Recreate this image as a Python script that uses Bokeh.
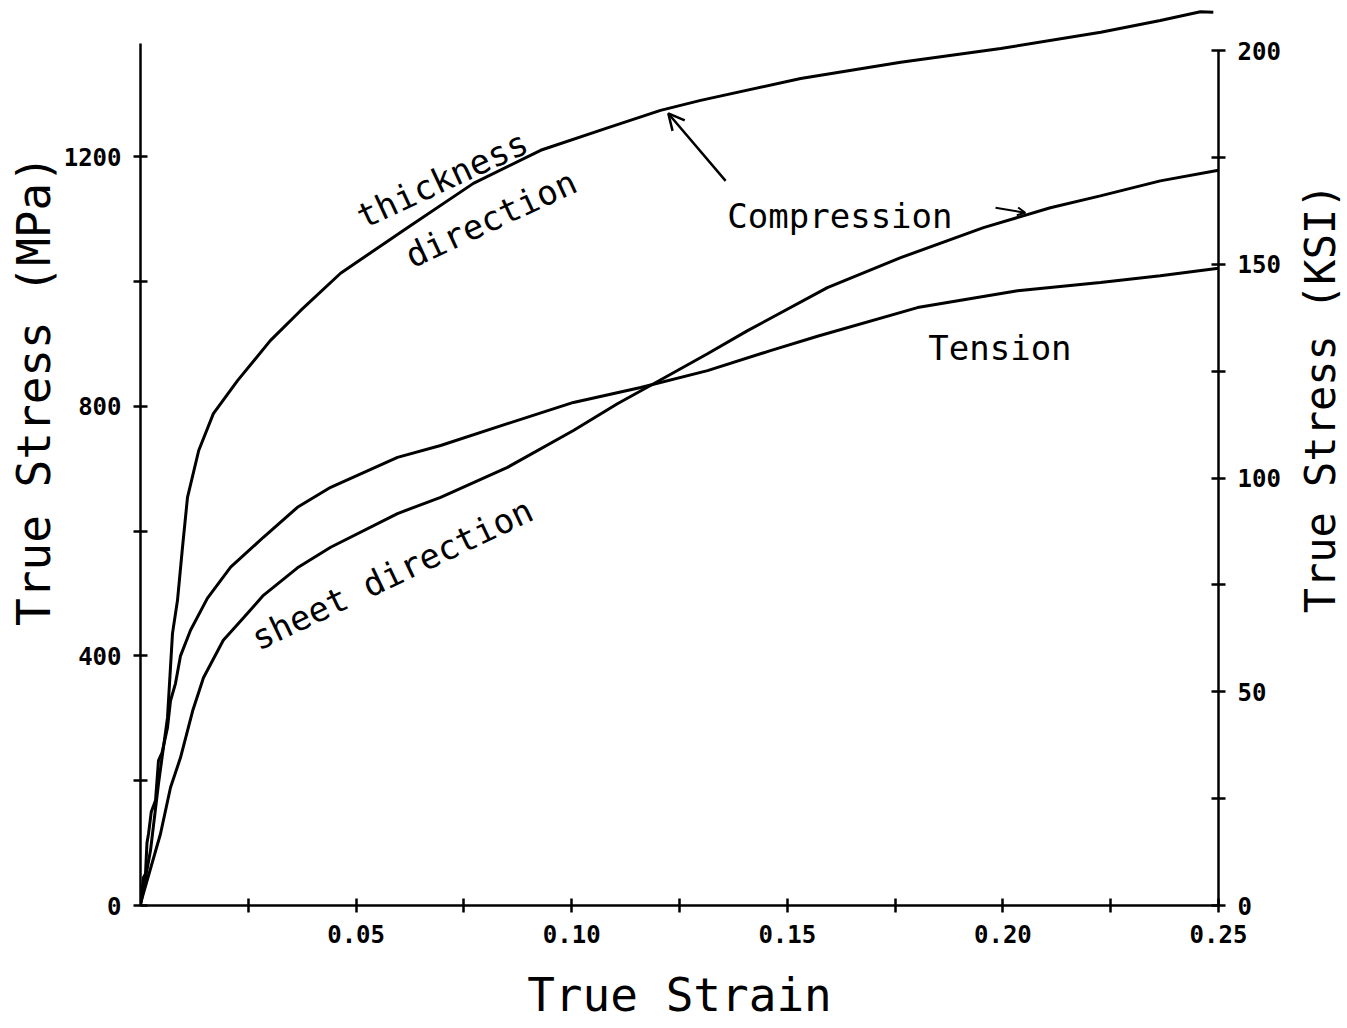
import math
from bokeh.plotting import figure
from bokeh.models import (Range1d, LinearAxis, FixedTicker, NumeralTickFormatter,
                          ColumnDataSource, Arrow, OpenHead)
from bokeh.layouts import row
from bokeh.core.properties import value
from bokeh.embed import file_html
from bokeh.resources import INLINE

# ---- data ----
thick_x = [0, 0.00232, 0.00417, 0.00626, 0.00742, 0.00858, 0.00974, 0.0109, 0.0135, 0.0169,
           0.0225, 0.0301, 0.0371, 0.0464, 0.0619, 0.0772, 0.0928, 0.1083, 0.1206, 0.1299,
           0.1531, 0.1763, 0.1995, 0.2227, 0.2365, 0.2458, 0.2488]
thick_y = [0, 88, 195, 301, 436, 489, 574, 654, 729, 788,
           841, 905, 953, 1013, 1086, 1157, 1210, 1246, 1274, 1290,
           1325, 1351, 1373, 1399, 1418, 1432, 1431]

sheet_x = [0, 0.00464, 0.00696, 0.00928, 0.0121, 0.0146, 0.0192, 0.0239, 0.0285, 0.0364,
           0.0441, 0.0596, 0.0696, 0.0851, 0.1004, 0.1106, 0.1190, 0.1315, 0.1408, 0.1593,
           0.1763, 0.1955, 0.2110, 0.2226, 0.2365, 0.2500]
sheet_y = [3, 115, 189, 237, 312, 365, 425, 461, 497, 541,
           574, 628, 654, 702, 761, 804, 836, 884, 921, 990,
           1038, 1086, 1118, 1137, 1161, 1178]

tension_x = [0, 0.0007, 0.00116, 0.0015, 0.00186, 0.0025, 0.00348, 0.00417, 0.0050, 0.00626,
             0.00696, 0.00812, 0.00928, 0.0116, 0.0155, 0.0209, 0.0285, 0.0364, 0.0441, 0.0596,
             0.0696, 0.0851, 0.1004, 0.1160, 0.1315, 0.1461, 0.1570, 0.1802, 0.2034, 0.2226,
             0.2365, 0.2500]
tension_y = [3, 45, 51, 100, 115, 150, 168, 232, 245, 285,
             328, 356, 400, 441, 492, 542, 590, 638, 670, 718,
             737, 772, 806, 830, 857, 889, 912, 958, 985, 998,
             1009, 1021]

x_ticks = [0.05, 0.10, 0.15, 0.20, 0.25]
x_minor = [0.025, 0.075, 0.125, 0.175, 0.225]
mpa_ticks = [0, 400, 800, 1200]
mpa_minor = [200, 600, 1000]
ksi_ticks = [0, 50, 100, 150, 200]
ksi_minor = [25, 75, 125, 175]

x_title = "True Strain"
left_title = "True Stress (MPa)"
right_title = "True Stress (KSI)"

labels = ["thickness", "direction", "Compression", "Tension", "sheet direction"]
label_x = [0.0506, 0.0619, 0.1361, 0.1827, 0.0262]
label_y = [1101, 1038, 1105, 894, 425]
label_angle = [0.436, 0.436, 0.0, 0.0, 0.445]

FONT = "DejaVu Sans Mono"
H = 1028

p = figure(width=1224, height=H, output_backend="svg", toolbar_location=None,
           x_range=Range1d(0, 0.25), y_range=Range1d(0, 1450),
           min_border_left=80, min_border_right=66, min_border_top=0,
           min_border_bottom=123)
p.outline_line_color = None
p.grid.visible = False
p.background_fill_color = "white"
p.border_fill_color = "white"
p.extra_y_ranges = {"ksi": Range1d(0, 211.7)}

def style_axis(ax, ticks, minor, bounds):
    ax.ticker = FixedTicker(ticks=ticks, minor_ticks=minor)
    ax.bounds = bounds
    ax.axis_line_width = 2.5
    ax.axis_line_color = "black"
    ax.major_tick_line_width = 2.5
    ax.minor_tick_line_width = 2.5
    ax.major_tick_line_color = "black"
    ax.minor_tick_line_color = "black"
    ax.major_tick_in = 7
    ax.major_tick_out = 7
    ax.minor_tick_in = 7
    ax.minor_tick_out = 7
    ax.major_label_text_font = FONT
    ax.major_label_text_font_style = "bold"
    ax.major_label_text_font_size = "24px"
    ax.major_label_text_color = "black"
    ax.axis_label_text_font = FONT
    ax.axis_label_text_font_style = "normal"
    ax.axis_label_text_font_size = "46px"
    ax.axis_label_text_color = "black"

xa = p.xaxis[0]
style_axis(xa, x_ticks, x_minor, (0, 0.25))
xa.formatter = NumeralTickFormatter(format="0.00")
xa.axis_label = x_title
xa.major_label_standoff = 12
xa.axis_label_standoff = 22

ya = p.yaxis[0]
style_axis(ya, mpa_ticks, mpa_minor, (0, 1381))
ya.major_label_standoff = 12

ra = LinearAxis(y_range_name="ksi")
style_axis(ra, ksi_ticks, ksi_minor, (0, 200))
ra.major_label_standoff = 12
p.add_layout(ra, "right")

for xs, ys in [(thick_x, thick_y), (sheet_x, sheet_y), (tension_x, tension_y)]:
    p.line(xs, ys, line_color="black", line_width=3)

src = ColumnDataSource(dict(x=label_x, y=label_y, text=labels, angle=label_angle))
p.text(x="x", y="y", text="text", angle="angle", source=src,
       text_font=value(FONT), text_font_size=value("34px"), text_color="black",
       text_align="left", text_baseline="alphabetic")

# arrows (annotation positions)
p.add_layout(Arrow(end=OpenHead(size=16, line_width=2.5, line_color="black"),
                   x_start=0.1357, y_start=1161, x_end=0.1224, y_end=1269,
                   line_width=2.5, line_color="black"))
p.add_layout(Arrow(end=OpenHead(size=8, line_width=2, line_color="black"),
                   x_start=0.1983, y_start=1118, x_end=0.2052, y_end=1110,
                   line_width=2, line_color="black"))

# side panels holding the vertical axis titles (both read bottom to top)
def side_panel(width, title, cx, cy, size):
    s = figure(width=width, height=H, output_backend="svg", toolbar_location=None,
               x_range=Range1d(0, width), y_range=Range1d(H, 0),
               x_axis_type=None, y_axis_type=None, min_border=0)
    s.outline_line_color = None
    s.grid.visible = False
    s.text(x=[cx], y=[cy], text=[title], angle=math.pi / 2,
           text_font=value(FONT), text_font_size=value(size), text_color="black",
           text_align="center", text_baseline="middle")
    return s

pl = side_panel(60, left_title, 33, 443, "46px")
pr = side_panel(63, right_title, 36, 452, "42px")

layout = row(pl, p, pr, spacing=0)
open("out.html", "w").write(file_html(layout, INLINE))
